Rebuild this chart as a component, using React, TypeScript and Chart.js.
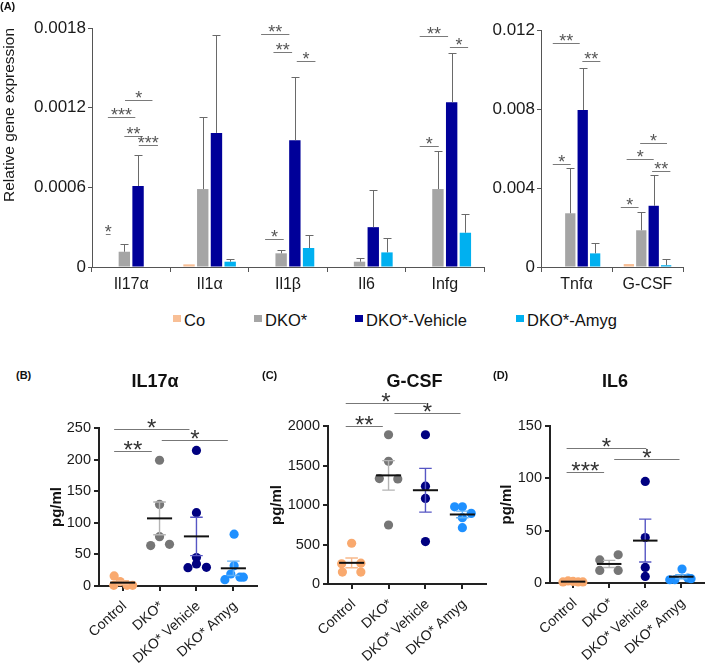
import React, { useEffect, useRef } from 'react';
import { Chart, registerables } from 'chart.js';
Chart.register(...registerables);

const FONT = '"Liberation Sans", Arial, Helvetica, sans-serif';

// ---------------- Panel A : relative gene expression ----------------
const seriesNames = ['Co', 'DKO*', 'DKO*-Vehicle', 'DKO*-Amyg'];
const barColors = ['#f8bf96', '#a5a5a5', '#000099', '#00b0f0'];

const geneCatsLeft = ['Il17α', 'Il1α', 'Il1β', 'Il6', 'Infg'];
const coLeft = [0, 0.00002, 0, 0, 0];
const dkoLeft = [0.000115, 0.000587, 0.000103, 0.00004, 0.000587];
const vehicleLeft = [0.00061, 0.00101, 0.000954, 0.0003, 0.00124];
const amygLeft = [0, 0.00004, 0.000143, 0.00011, 0.000258];
const coErrLeft = [0, 0, 0, 0, 0];
const dkoErrLeft = [0.000055, 0.000543, 0.000025, 0.000025, 0.000286];
const vehicleErrLeft = [0.00023, 0.00074, 0.000476, 0.00028, 0.00037];
const amygErrLeft = [0, 0.000018, 0.000096, 0.00011, 0.000142];
const yTicksLeft = [0, 0.0006, 0.0012, 0.0018];
const yTickLabelsLeft = ['0', '0.0006', '0.0012', '0.0018'];
// [category, from bar slot, to bar slot, value, stars]
const sigLeft: [number, number, number, number, string][] = [
  [0, -0.35, 0, 0.000246, '*'],
  [0, -0.2, 1.8, 0.001127, '***'],
  [0, 1.05, 3.05, 0.001255, '*'],
  [0, 1.0, 2.35, 0.000989, '**'],
  [0, 2.05, 3.45, 0.000918, '***'],
  [2, -0.46, 1.6, 0.001756, '**'],
  [2, 0.44, 1.8, 0.001616, '**'],
  [2, 2.14, 3.5, 0.001549, '*'],
  [2, -0.17, 1.19, 0.000211, '*'],
  [4, -0.33, 1.74, 0.001739, '**'],
  [4, 1.87, 3.2, 0.001658, '*'],
  [4, -0.33, 1.06, 0.000913, '*'],
];

const geneCatsRight = ['Tnfα', 'G-CSF'];
const coRight = [0, 0.00015];
const dkoRight = [0.00272, 0.00186];
const vehicleRight = [0.00795, 0.0031];
const amygRight = [0.00069, 0.00009];
const coErrRight = [0, 0];
const dkoErrRight = [0.00229, 0.00092];
const vehicleErrRight = [0.00215, 0.00156];
const amygErrRight = [0.00053, 0.00033];
const yTicksRight = [0, 0.004, 0.008, 0.012];
const yTickLabelsRight = ['0', '0.004', '0.008', '0.012'];
const sigRight: [number, number, number, number, string][] = [
  [0, -0.41, 1.76, 0.01133, '**'],
  [0, 1.97, 3.42, 0.01045, '**'],
  [0, -0.41, 1.03, 0.00522, '*'],
  [1, -0.65, 0.78, 0.00305, '*'],
  [1, -0.18, 2.0, 0.00547, '*'],
  [1, 0.91, 3.07, 0.00626, '*'],
  [1, 1.87, 3.34, 0.00484, '**'],
];

// ---------------- Panels B-D : serum cytokines ----------------
const groups = ['Control', 'DKO*', 'DKO* Vehicle', 'DKO* Amyg'];
const dotColors = ['#f9a96e', '#767676', '#000080', '#1e90ff'];
const semColors = ['#f8b98c', '#b4b4b4', '#5656c4', '#5fb0f7'];

// B: IL17α
const il17Values = [
  [16, 7, 1, 1, 1],
  [199, 129, 64, 78, 66],
  [214.5, 116, 45, 29, 35, 29.5],
  [82, 32, 19, 10, 14, 14],
];
const il17Jitter = [
  [-0.23, -0.07, -0.24, 0.12, 0.27],
  [0, 0, -0.24, 0, 0.27],
  [0, 0, 0, -0.23, 0, 0.27],
  [0.02, 0.02, -0.07, -0.23, 0.18, 0.27],
];
const il17Mean = [5.3, 107, 78.5, 28];
const il17Sem = [2.9, 26, 30.4, 11.3];
const il17Sig: [number, number, number, string][] = [
  [-0.23, 1.81, 248.7, '*'],
  [-0.23, 0.79, 213.4, '**'],
  [1.06, 2.85, 230.3, '*'],
];

// C: G-CSF
const gcsfValues = [
  [516, 256, 264, 151, 151],
  [1889, 1553, 1335, 1330, 747],
  [1889, 1238, 1083, 537],
  [977, 977, 894, 839, 713],
];
const gcsfJitter = [
  [0, -0.27, 0.25, -0.25, 0.25],
  [0, 0, -0.25, 0.25, 0],
  [0, 0, 0, 0],
  [-0.21, 0, 0.24, 0, 0],
];
const gcsfMean = [268, 1375, 1187, 880];
const gcsfSem = [62, 187, 277, 42];
const gcsfSig: [number, number, number, string][] = [
  [-0.16, 2.02, 2292, '*'],
  [-0.16, 0.845, 2006, '**'],
  [1.16, 2.95, 2161, '*'],
];

// D: IL6
const il6Values = [
  [1, 2, 1.5, 1, 1],
  [22, 27, 12, 12],
  [97, 43.4, 14.9, 6.3],
  [13.3, 3.1, 3.1, 4.8, 4.1],
];
const il6Jitter = [
  [-0.28, -0.14, 0, 0.14, 0.27],
  [-0.26, 0.25, -0.26, 0.25],
  [0, 0, 0, 0],
  [0.02, -0.32, -0.18, 0.18, 0.27],
];
const il6Mean = [1.3, 18.2, 40.5, 6];
const il6Sem = [0.3, 3.4, 20.5, 1.9];
const il6Sig: [number, number, number, string][] = [
  [-0.18, 2.03, 128.6, '*'],
  [-0.18, 0.86, 106.3, '***'],
  [1.14, 2.95, 118.1, '*'],
];

// ---------------- helpers ----------------
type Geom = { left: number; top: number; width: number; height: number; pt: number; pr: number; pb: number; yw: number; xh: number };

function drawStars(ctx: CanvasRenderingContext2D, text: string, cx: number, lineY: number, size: number, color: string) {
  ctx.save();
  ctx.fillStyle = color;
  ctx.font = `${size}px ${FONT}`;
  ctx.textAlign = 'center';
  ctx.textBaseline = 'alphabetic';
  ctx.fillText(text, cx, lineY - 7 + 0.57 * size);
  ctx.restore();
}

function barConfig(
  cats: string[], vals: number[][], errs: number[][], sig: [number, number, number, number, string][],
  yTicks: number[], yLabels: string[], yTitle: string | null, g: Geom
): any {
  const errPlugin = {
    id: 'errbars',
    afterDatasetsDraw(chart: any) {
      const ctx = chart.ctx; const ys = chart.scales.y;
      ctx.save();
      ctx.strokeStyle = '#6a6a6a'; ctx.lineWidth = 1;
      errs.forEach((arr, i) => {
        const meta = chart.getDatasetMeta(i);
        arr.forEach((e, j) => {
          if (!e) return;
          const bar = meta.data[j];
          const top = Math.round(ys.getPixelForValue(vals[i][j] + e)) + 0.5;
          const x = Math.round(bar.x) + 0.5;
          ctx.beginPath();
          ctx.moveTo(x, bar.y); ctx.lineTo(x, top);
          ctx.moveTo(x - 4, top); ctx.lineTo(x + 4, top);
          ctx.stroke();
        });
      });
      ctx.restore();
    },
  };
  const sigPlugin = {
    id: 'sig',
    afterDraw(chart: any) {
      const ctx = chart.ctx; const ys = chart.scales.y;
      const m0 = chart.getDatasetMeta(0); const m1 = chart.getDatasetMeta(1);
      sig.forEach(([c, a, b, v, s]) => {
        const x0 = m0.data[c].x; const step = m1.data[c].x - x0;
        const xa = x0 + a * step; const xb = x0 + b * step;
        const y = Math.round(ys.getPixelForValue(v)) + 0.5;
        ctx.save();
        ctx.strokeStyle = '#7a7a7a'; ctx.lineWidth = 1;
        ctx.beginPath(); ctx.moveTo(xa, y); ctx.lineTo(xb, y); ctx.stroke();
        ctx.restore();
        drawStars(ctx, s, (xa + xb) / 2, y, 18, '#555');
      });
    },
  };
  return {
    type: 'bar',
    data: {
      labels: cats,
      datasets: vals.map((v, i) => ({
        label: seriesNames[i], data: v, backgroundColor: barColors[i], borderWidth: 0,
        categoryPercentage: 0.7, barPercentage: 0.83,
      })),
    },
    options: {
      responsive: false, animation: false, devicePixelRatio: 1,
      layout: { padding: { top: g.pt, right: g.pr, bottom: g.pb, left: 0 } },
      plugins: { legend: { display: false }, tooltip: { enabled: false } },
      scales: {
        x: {
          grid: { display: true, drawOnChartArea: false, drawTicks: true, tickLength: 5, color: '#555', offset: true },
          border: { display: true, color: '#555', width: 1 },
          ticks: { color: '#1a1a1a', font: { family: FONT, size: 16 }, padding: 3, autoSkip: false, maxRotation: 0, minRotation: 0 },
          afterFit: (s: any) => { s.height = g.xh; },
        },
        y: {
          min: 0, max: yTicks[yTicks.length - 1],
          afterBuildTicks: (s: any) => { s.ticks = yTicks.map((v) => ({ value: v })); },
          grid: { display: true, drawOnChartArea: false, drawTicks: true, tickLength: 4, color: '#555' },
          border: { display: true, color: '#555', width: 1 },
          ticks: { color: '#1a1a1a', font: { family: FONT, size: 17 }, padding: 2, callback: (_v: any, i: number) => yLabels[i] },
          title: yTitle
            ? { display: true, text: yTitle, align: 'end', color: '#1a1a1a', font: { family: FONT, size: 15.5 }, padding: { top: 0, bottom: 0 } }
            : { display: false },
          afterFit: (s: any) => { s.width = g.yw; },
        },
      },
    },
    plugins: [errPlugin, sigPlugin],
  };
}

function dotConfig(
  values: number[][], jitter: number[][], means: number[], sems: number[],
  sig: [number, number, number, string][], yMax: number, yStep: number, titlePad: number, g: Geom
): any {
  const statPlugin = {
    id: 'meansem',
    afterDatasetsDraw(chart: any) {
      const ctx = chart.ctx; const xs = chart.scales.x; const ys = chart.scales.y;
      ctx.save();
      means.forEach((m, i) => {
        const cx = xs.getPixelForValue(i);
        const hm = xs.getPixelForValue(i + 0.34) - cx;
        const hc = xs.getPixelForValue(i + 0.17) - cx;
        const yT = ys.getPixelForValue(m + sems[i]);
        const yB = ys.getPixelForValue(Math.max(m - sems[i], 0));
        const yM = ys.getPixelForValue(m);
        ctx.strokeStyle = semColors[i]; ctx.lineWidth = 1.4;
        ctx.beginPath();
        ctx.moveTo(cx, yT); ctx.lineTo(cx, yB);
        ctx.moveTo(cx - hc, yT); ctx.lineTo(cx + hc, yT);
        ctx.moveTo(cx - hc, yB); ctx.lineTo(cx + hc, yB);
        ctx.stroke();
        ctx.strokeStyle = '#111'; ctx.lineWidth = 2;
        ctx.beginPath(); ctx.moveTo(cx - hm, yM); ctx.lineTo(cx + hm, yM); ctx.stroke();
      });
      ctx.restore();
    },
  };
  const sigPlugin = {
    id: 'sig',
    afterDraw(chart: any) {
      const ctx = chart.ctx; const xs = chart.scales.x; const ys = chart.scales.y;
      sig.forEach(([a, b, v, s]) => {
        const xa = xs.getPixelForValue(a); const xb = xs.getPixelForValue(b);
        const y = Math.round(ys.getPixelForValue(v)) + 0.5;
        ctx.save();
        ctx.strokeStyle = '#777'; ctx.lineWidth = 1;
        ctx.beginPath(); ctx.moveTo(xa, y); ctx.lineTo(xb, y); ctx.stroke();
        ctx.restore();
        drawStars(ctx, s, (xa + xb) / 2, y, 24, '#333');
      });
    },
  };
  return {
    type: 'scatter',
    data: {
      datasets: values.map((vals, i) => ({
        label: groups[i],
        data: vals.map((v, k) => ({ x: i + jitter[i][k], y: v })),
        pointRadius: 4.6, pointHoverRadius: 4.6, pointBorderWidth: 0,
        pointBackgroundColor: dotColors[i], backgroundColor: dotColors[i], borderColor: dotColors[i],
        showLine: false, clip: false,
      })),
    },
    options: {
      responsive: false, animation: false, devicePixelRatio: 1,
      layout: { padding: { top: g.pt, right: g.pr, bottom: g.pb, left: 0 } },
      plugins: { legend: { display: false }, tooltip: { enabled: false } },
      scales: {
        x: {
          type: 'linear', min: -0.64, max: 3.64,
          afterBuildTicks: (s: any) => { s.ticks = groups.map((_, i) => ({ value: i })); },
          grid: { display: true, drawOnChartArea: false, drawTicks: true, tickLength: 5, color: '#222', lineWidth: 2 },
          border: { display: true, color: '#222', width: 2 },
          ticks: { color: '#1a1a1a', font: { family: FONT, size: 14 }, padding: 7, labelOffset: 2, autoSkip: false, minRotation: 42, maxRotation: 42, callback: (_v: any, i: number) => groups[i] },
          afterFit: (s: any) => { s.height = g.xh; },
        },
        y: {
          min: 0, max: yMax,
          ticks: { stepSize: yStep, color: '#1a1a1a', font: { family: FONT, size: 14.5 }, padding: 3, callback: (v: any) => String(v) },
          grid: { display: true, drawOnChartArea: false, drawTicks: true, tickLength: 5, color: '#222', lineWidth: 2 },
          border: { display: true, color: '#222', width: 2 },
          title: { display: true, text: 'pg/ml', color: '#111', font: { family: FONT, size: 15, weight: 'bold' }, padding: { top: titlePad, bottom: 0 } },
          afterFit: (s: any) => { s.width = g.yw; },
        },
      },
    },
    plugins: [statPlugin, sigPlugin],
  };
}

function ChartCanvas({ g, make }: { g: Geom; make: () => any }) {
  const ref = useRef<HTMLCanvasElement>(null);
  useEffect(() => {
    const chart = new Chart(ref.current as HTMLCanvasElement, make());
    return () => chart.destroy();
  }, []);
  return (
    <div style={{ position: 'absolute', left: g.left, top: g.top, width: g.width, height: g.height }}>
      <canvas ref={ref} width={g.width} height={g.height} style={{ width: g.width, height: g.height, display: 'block' }} />
    </div>
  );
}

function Text({ x, y, size, bold, children, center, w }: any) {
  return (
    <div style={{
      position: 'absolute', left: center ? x - (w || 100) / 2 : x, top: y - size / 2, width: center ? (w || 100) : undefined,
      fontSize: size, lineHeight: `${size}px`, fontWeight: bold ? 'bold' : 'normal', whiteSpace: 'nowrap',
      textAlign: center ? 'center' : 'left', color: '#111', fontFamily: FONT,
    }}>{children}</div>
  );
}

const gLeft: Geom = { left: 0, top: 10, width: 496, height: 291, pt: 18, pr: 12, pb: 4, yw: 92, xh: 30 };
const gRight: Geom = { left: 481, top: 12, width: 214, height: 289, pt: 18, pr: 12, pb: 4, yw: 60, xh: 30 };
const gB: Geom = { left: 40, top: 398, width: 225, height: 272, pt: 30, pr: 8, pb: 4, yw: 59, xh: 80 };
const gC: Geom = { left: 262, top: 384, width: 232, height: 286, pt: 42, pr: 8, pb: 4, yw: 66, xh: 82 };
const gD: Geom = { left: 490, top: 396, width: 219, height: 274, pt: 30, pr: 2, pb: 4, yw: 60, xh: 83 };

const legendX = [173, 254, 355, 516];

export default function App() {
  return (
    <div style={{ position: 'absolute', left: 0, top: 0, width: 709, height: 670, background: '#fff', overflow: 'hidden', fontFamily: FONT }}>
      <ChartCanvas g={gLeft} make={() => barConfig(geneCatsLeft,
        [coLeft, dkoLeft, vehicleLeft, amygLeft], [coErrLeft, dkoErrLeft, vehicleErrLeft, amygErrLeft],
        sigLeft, yTicksLeft, yTickLabelsLeft, 'Relative gene expression', gLeft)} />
      <ChartCanvas g={gRight} make={() => barConfig(geneCatsRight,
        [coRight, dkoRight, vehicleRight, amygRight], [coErrRight, dkoErrRight, vehicleErrRight, amygErrRight],
        sigRight, yTicksRight, yTickLabelsRight, null, gRight)} />
      <ChartCanvas g={gB} make={() => dotConfig(il17Values, il17Jitter, il17Mean, il17Sem, il17Sig, 250, 50, 8, gB)} />
      <ChartCanvas g={gC} make={() => dotConfig(gcsfValues, gcsfJitter, gcsfMean, gcsfSem, gcsfSig, 2000, 500, 6, gC)} />
      <ChartCanvas g={gD} make={() => dotConfig(il6Values, il6Jitter, il6Mean, il6Sem, il6Sig, 150, 50, 8, gD)} />

      {seriesNames.map((n, i) => (
        <React.Fragment key={n}>
          <div style={{ position: 'absolute', left: legendX[i], top: 314.5, width: 7.5, height: 7, background: barColors[i] }} />
          <Text x={legendX[i] + 11} y={320} size={16.5}>{n}</Text>
        </React.Fragment>
      ))}

      <Text x={0} y={6} size={11} bold>(A)</Text>
      <Text x={16} y={375.5} size={11} bold>(B)</Text>
      <Text x={262} y={375.5} size={11} bold>(C)</Text>
      <Text x={493} y={375.5} size={11} bold>(D)</Text>
      <Text x={155} y={380.7} size={18} bold center w={120}>IL17α</Text>
      <Text x={414.5} y={380.7} size={18} bold center w={120}>G-CSF</Text>
      <Text x={615} y={380.7} size={18} bold center w={120}>IL6</Text>
    </div>
  );
}
